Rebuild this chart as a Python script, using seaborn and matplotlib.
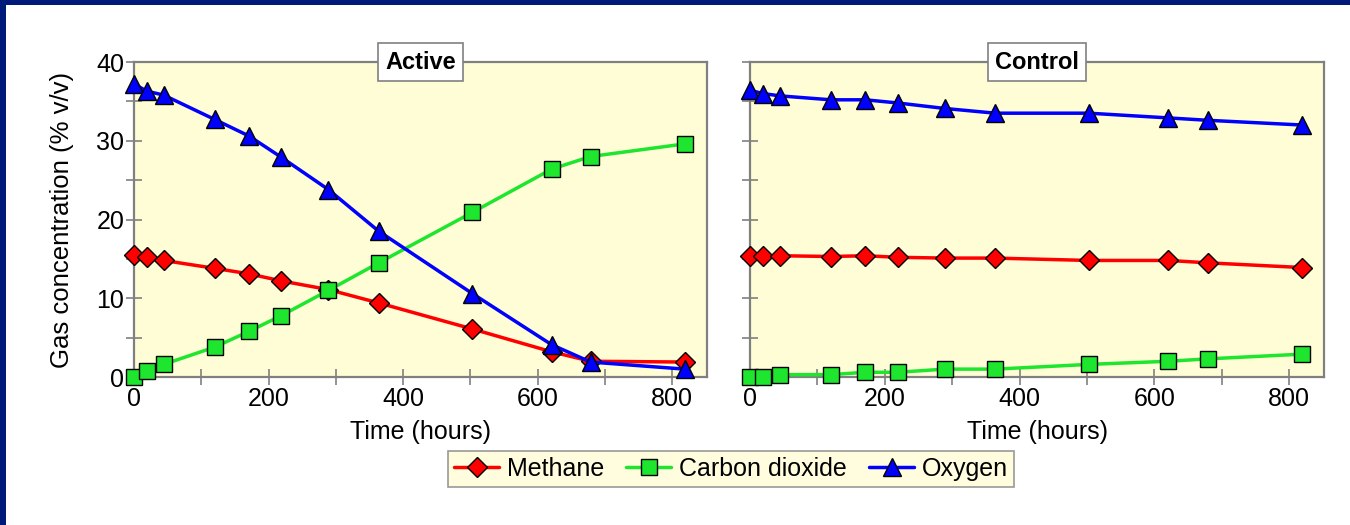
import pandas as pd
import matplotlib
matplotlib.use("Agg")
import matplotlib.pyplot as plt
import seaborn as sns
from matplotlib.lines import Line2D
from matplotlib.patches import Rectangle
from matplotlib.ticker import MultipleLocator

# sampling times (hours)
times = [0, 19, 44, 120, 171, 219, 289, 364, 503, 621, 679, 819]

# Active column
active_methane = [15.5, 15.2, 14.8, 13.8, 13.1, 12.2, 11.1, 9.4, 6.1, 3.2, 2.0, 1.9]
active_co2 = [0.0, 0.7, 1.6, 3.8, 5.8, 7.8, 11.0, 14.5, 20.9, 26.4, 28.0, 29.6]
active_oxygen = [37.2, 36.3, 35.8, 32.7, 30.6, 27.9, 23.8, 18.5, 10.6, 4.1, 1.9, 1.0]

# Control column
control_methane = [15.4, 15.4, 15.4, 15.3, 15.4, 15.2, 15.1, 15.1, 14.8, 14.8, 14.5, 13.9]
control_co2 = [0.0, 0.0, 0.3, 0.3, 0.6, 0.6, 1.0, 1.0, 1.6, 2.0, 2.3, 2.9]
control_oxygen = [36.4, 36.0, 35.7, 35.2, 35.2, 34.8, 34.1, 33.5, 33.5, 32.9, 32.6, 32.0]

gases = ["Methane", "Carbon dioxide", "Oxygen"]
panels = ["Active", "Control"]

colors = {"Methane": "#ff0000", "Carbon dioxide": "#1ee62e", "Oxygen": "#0000ff"}
markers = {"Methane": "D", "Carbon dioxide": "s", "Oxygen": "^"}
msizes = {"Methane": 10, "Carbon dioxide": 12, "Oxygen": 13}


def build_frame():
    rows = []
    series = {
        "Active": [active_methane, active_co2, active_oxygen],
        "Control": [control_methane, control_co2, control_oxygen],
    }
    for panel in panels:
        for gas, vals in zip(gases, series[panel]):
            for t, v in zip(times, vals):
                rows.append({"panel": panel, "gas": gas, "time": t, "conc": v})
    return pd.DataFrame(rows)


def main():
    df = build_frame()

    sns.set_style("white")
    plt.rcParams["font.family"] = ["Liberation Sans", "DejaVu Sans"]
    plt.rcParams["text.color"] = "black"
    plt.rcParams["axes.labelcolor"] = "black"

    fig = plt.figure(figsize=(13.5, 5.25), dpi=100)
    ax1 = fig.add_axes([0.0993, 0.2819, 0.4244, 0.6000])
    ax2 = fig.add_axes([0.5556, 0.2819, 0.4252, 0.6000])

    for ax, panel in zip([ax1, ax2], panels):
        ax.set_facecolor("#fffdd6")
        sub = df[df["panel"] == panel]
        for gas in gases:
            g = sub[sub["gas"] == gas]
            sns.lineplot(data=g, x="time", y="conc", ax=ax, color=colors[gas],
                         linewidth=2.5, marker=markers[gas], markersize=msizes[gas],
                         markerfacecolor=colors[gas], markeredgecolor="black",
                         markeredgewidth=1.0, legend=False, clip_on=False, zorder=3)
        ax.set_xlim(0, 852)
        ax.set_ylim(0, 40)
        ax.xaxis.set_major_locator(MultipleLocator(200))
        ax.xaxis.set_minor_locator(MultipleLocator(100))
        ax.yaxis.set_major_locator(MultipleLocator(10))
        ax.yaxis.set_minor_locator(MultipleLocator(5))
        ax.tick_params(which="both", direction="inout", length=12, width=1.2,
                       color="#808080", labelcolor="black", labelsize=18, pad=1)
        ax.tick_params(axis="x", which="both", bottom=True)
        ax.tick_params(axis="y", which="both", left=True)
        for sp in ax.spines.values():
            sp.set_color("#808080")
            sp.set_linewidth(1.6)
        ax.set_xlabel("Time (hours)", fontsize=18, labelpad=7)
        ax.set_ylabel("")
        ax.text(0.5, 1.0, panel, transform=ax.transAxes, ha="center", va="center",
                fontsize=17, fontweight="bold", zorder=5,
                bbox=dict(boxstyle="square,pad=0.3", facecolor="white",
                          edgecolor="#808080", linewidth=1.2))

    ax2.set_yticklabels([])
    ax1.set_ylabel("Gas concentration (% v/v)", fontsize=18.5, labelpad=16)

    handles = [Line2D([], [], color=colors[g], linewidth=2.5, marker=markers[g],
                      markersize=msizes[g], markerfacecolor=colors[g],
                      markeredgecolor="black", markeredgewidth=1.0) for g in gases]
    leg = fig.legend(handles, gases, loc="center", bbox_to_anchor=(0.5415, 0.107),
                     ncol=3, fontsize=18, frameon=True, fancybox=False,
                     handlelength=1.8, handletextpad=0.3, columnspacing=0.9,
                     borderpad=0.25)
    leg.get_frame().set_facecolor("#fffdd6")
    leg.get_frame().set_edgecolor("#808080")
    leg.get_frame().set_linewidth(1.2)

    # dark frame along the top and left edges
    fig.patches.append(Rectangle((0, 0), 6 / 1350, 1, transform=fig.transFigure,
                                 facecolor="#001a7a", edgecolor="none"))
    fig.patches.append(Rectangle((0, 1 - 5 / 525), 1, 5 / 525, transform=fig.transFigure,
                                 facecolor="#001a7a", edgecolor="none"))

    fig.savefig("out.png", dpi=100)


if __name__ == "__main__":
    main()
